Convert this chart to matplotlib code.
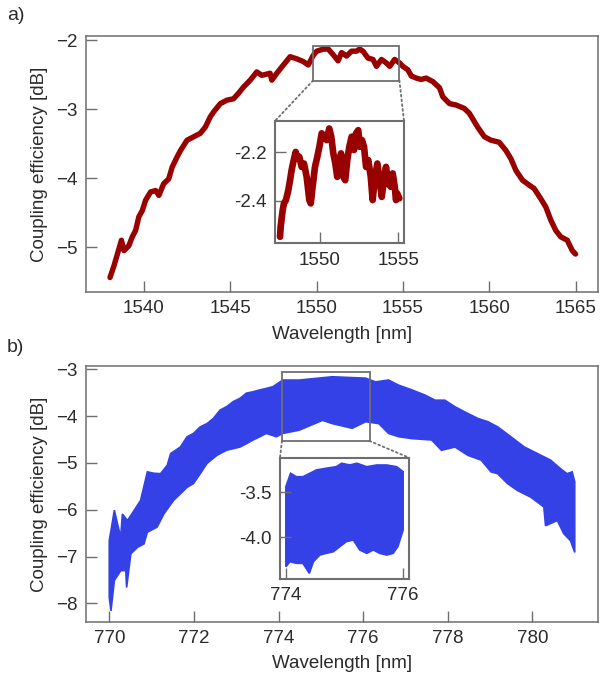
import numpy as np
import matplotlib
matplotlib.use("Agg")
import matplotlib.pyplot as plt
from matplotlib.patches import Rectangle, ConnectionPatch

plt.rcParams['font.family'] = ['Liberation Sans', 'DejaVu Sans']

# ---------------- Panel a data (C-band) ----------------
a_wl = [1538.04, 1538.27, 1538.47, 1538.70, 1538.85, 1539.13, 1539.33, 1539.52, 1539.71, 1539.91,
        1540.10, 1540.39, 1540.68, 1540.87, 1541.15, 1541.44, 1541.64, 1541.93, 1542.12, 1542.50,
        1542.89, 1543.27, 1543.56, 1543.85, 1544.04, 1544.43, 1544.81, 1545.19, 1545.48, 1545.77,
        1546.16, 1546.54, 1546.83, 1547.31, 1547.41, 1547.70, 1548.08, 1548.47, 1548.85, 1549.23,
        1549.52, 1549.81, 1550.01, 1550.39, 1550.68, 1550.96, 1551.25, 1551.45, 1551.74, 1552.03,
        1552.31, 1552.50, 1552.69, 1552.98, 1553.27, 1553.47, 1553.76, 1554.04, 1554.24, 1554.52,
        1554.81, 1555.00, 1555.29, 1555.49, 1555.78, 1556.06, 1556.35, 1556.73, 1557.12, 1557.31,
        1557.70, 1558.08, 1558.56, 1558.85, 1559.33, 1559.72, 1560.10, 1560.58, 1560.97, 1561.26,
        1561.55, 1561.93, 1562.31, 1562.60, 1562.99, 1563.28, 1563.57, 1563.86, 1564.14, 1564.52,
        1564.81, 1565.00]
a_ce = [-5.44, -5.27, -5.10, -4.90, -5.05, -4.98, -4.85, -4.76, -4.56, -4.47,
        -4.32, -4.20, -4.18, -4.25, -4.08, -4.01, -3.84, -3.69, -3.60, -3.45,
        -3.40, -3.35, -3.26, -3.11, -3.04, -2.92, -2.87, -2.85, -2.77, -2.68,
        -2.58, -2.46, -2.51, -2.48, -2.58, -2.48, -2.36, -2.24, -2.27, -2.31,
        -2.36, -2.22, -2.16, -2.13, -2.13, -2.21, -2.30, -2.18, -2.23, -2.16,
        -2.16, -2.13, -2.16, -2.26, -2.28, -2.38, -2.28, -2.33, -2.38, -2.28,
        -2.33, -2.38, -2.43, -2.52, -2.55, -2.57, -2.55, -2.60, -2.69, -2.82,
        -2.92, -2.94, -2.99, -3.06, -3.26, -3.40, -3.45, -3.48, -3.60, -3.72,
        -3.89, -4.03, -4.10, -4.15, -4.30, -4.42, -4.61, -4.76, -4.85, -4.90,
        -5.05, -5.10]

# inset a
ai_wl = [1547.45, 1547.49, 1547.62, 1547.70, 1547.83, 1547.98, 1548.09, 1548.19, 1548.30, 1548.45,
         1548.55, 1548.68, 1548.83, 1548.98, 1549.15, 1549.32, 1549.41, 1549.53, 1549.68, 1549.83,
         1549.96, 1550.11, 1550.26, 1550.43, 1550.59, 1550.72, 1550.85, 1550.98, 1551.10, 1551.23,
         1551.34, 1551.49, 1551.61, 1551.74, 1551.87, 1552.02, 1552.17, 1552.30, 1552.44, 1552.55,
         1552.68, 1552.81, 1552.94, 1553.08, 1553.24, 1553.36, 1553.51, 1553.66, 1553.78, 1553.94,
         1554.08, 1554.21, 1554.36, 1554.51, 1554.64, 1554.77, 1554.85, 1554.93, 1555.06]
ai_ce = [-2.549, -2.508, -2.439, -2.411, -2.397, -2.356, -2.315, -2.273, -2.239, -2.198,
         -2.225, -2.218, -2.260, -2.246, -2.301, -2.397, -2.411, -2.342, -2.260, -2.218,
         -2.177, -2.121, -2.135, -2.149, -2.101, -2.135, -2.204, -2.246, -2.301, -2.260,
         -2.204, -2.301, -2.315, -2.232, -2.177, -2.135, -2.190, -2.121, -2.108, -2.177,
         -2.149, -2.177, -2.260, -2.232, -2.301, -2.397, -2.301, -2.246, -2.301, -2.384,
         -2.315, -2.260, -2.328, -2.342, -2.287, -2.342, -2.397, -2.370, -2.390]

# ---------------- Panel b data (780 nm band): upper / lower envelopes ----------------
bu_wl = [770.00, 770.12, 770.27, 770.31, 770.43, 770.59, 770.74, 770.90, 771.05, 771.21,
         771.37, 771.45, 771.68, 771.84, 771.99, 772.15, 772.31, 772.46, 772.62, 772.77,
         772.93, 773.09, 773.24, 773.40, 773.56, 773.71, 773.87, 774.10, 774.49, 775.27,
         776.06, 776.29, 776.60, 776.84, 777.15, 777.46, 777.70, 777.93, 778.17, 778.40,
         778.71, 778.95, 779.18, 779.49, 779.81, 780.12, 780.43, 780.66, 780.82, 780.94,
         781.00]
bu_ce = [-6.66, -6.01, -6.59, -6.09, -6.23, -6.01, -5.80, -5.19, -5.22, -5.23,
         -5.05, -4.80, -4.66, -4.44, -4.37, -4.23, -4.16, -4.05, -3.87, -3.80,
         -3.69, -3.62, -3.51, -3.48, -3.44, -3.41, -3.37, -3.23, -3.23, -3.16,
         -3.19, -3.27, -3.23, -3.34, -3.44, -3.55, -3.66, -3.66, -3.80, -3.91,
         -4.05, -4.12, -4.23, -4.44, -4.66, -4.80, -4.94, -5.12, -5.23, -5.19,
         -5.40]
bl_wl = [770.00, 770.04, 770.12, 770.27, 770.39, 770.41, 770.51, 770.67, 770.82, 770.90,
         771.13, 771.29, 771.52, 771.68, 771.84, 771.99, 772.15, 772.31, 772.54, 772.77,
         773.09, 773.24, 773.40, 773.56, 773.71, 773.95, 774.10, 774.49, 775.04, 775.27,
         775.74, 776.06, 776.37, 776.60, 776.84, 777.15, 777.62, 777.85, 778.17, 778.48,
         778.79, 779.02, 779.18, 779.41, 779.65, 779.96, 780.27, 780.31, 780.59, 780.74,
         780.90, 781.00]
bl_ce = [-7.87, -8.16, -7.51, -7.30, -7.30, -7.66, -6.94, -6.80, -6.73, -6.48,
         -6.37, -6.09, -5.80, -5.66, -5.52, -5.44, -5.23, -5.01, -4.84, -4.73,
         -4.66, -4.59, -4.51, -4.44, -4.37, -4.44, -4.37, -4.30, -4.09, -4.16,
         -4.26, -4.12, -4.16, -4.37, -4.44, -4.48, -4.51, -4.73, -4.66, -4.84,
         -4.94, -5.19, -5.23, -5.44, -5.59, -5.73, -5.94, -6.34, -6.23, -6.51,
         -6.66, -6.91]

# inset b envelopes
biu_wl = [774.00, 774.08, 774.18, 774.29, 774.41, 774.52, 774.69, 774.86, 774.95, 775.09,
          775.21, 775.38, 775.55, 775.72, 775.89, 776.00]
biu_ce = [-3.438, -3.289, -3.327, -3.327, -3.289, -3.252, -3.233, -3.216, -3.178, -3.197,
          -3.178, -3.216, -3.197, -3.197, -3.216, -3.271]
bil_wl = [774.00, 774.07, 774.18, 774.29, 774.40, 774.47, 774.58, 774.69, 774.81, 774.92,
          775.03, 775.15, 775.26, 775.38, 775.49, 775.60, 775.72, 775.83, 775.91, 776.00]
bil_ce = [-4.327, -4.271, -4.289, -4.289, -4.400, -4.271, -4.197, -4.178, -4.160, -4.104,
          -4.049, -4.030, -4.141, -4.178, -4.141, -4.178, -4.197, -4.178, -4.104, -3.919]

RED = '#990000'
BLUE = '#3341e6'
GRAY = '#6e6e6e'
TXT = '#2b2b2b'
FS = 13.5


def style(ax, fs=FS):
    for s in ax.spines.values():
        s.set_color(GRAY)
        s.set_linewidth(1.1)
    ax.tick_params(direction='in', length=8, width=1.0, color=GRAY,
                   labelsize=fs, labelcolor=TXT, top=False, right=False, pad=6)


def band(ax, xu, yu, xl, yl, color, lw=1.2):
    xs = np.concatenate([np.asarray(xu), np.asarray(xl)[::-1]])
    ys = np.concatenate([np.asarray(yu), np.asarray(yl)[::-1]])
    ax.fill(xs, ys, color=color, lw=lw, ec=color)


fig = plt.figure(figsize=(6.0, 6.85), dpi=100)

# ---------------- Panel a ----------------
axa = fig.add_axes([86/600, 1-292/685, 512/600, 256/685])
axa.plot(a_wl, a_ce, color=RED, lw=3.9, solid_joinstyle='round', solid_capstyle='round')
axa.set_xlim(1536.65, 1566.3)
axa.set_ylim(-5.65, -1.94)
axa.set_xticks([1540, 1545, 1550, 1555, 1560, 1565])
axa.set_yticks([-5, -4, -3, -2])
axa.set_xlabel('Wavelength [nm]', fontsize=FS, color=TXT, labelpad=6)
axa.set_ylabel('Coupling efficiency [dB]', fontsize=FS, color=TXT, labelpad=6)
style(axa)
axa.add_patch(Rectangle((1549.8, -2.585), 5.0, 0.505, fill=False, ec=GRAY, lw=1.3, zorder=5))

ia = fig.add_axes([275/600, 1-243.3/685, 129/600, 122.3/685])
ia.plot(ai_wl, ai_ce, color=RED, lw=4.8, solid_joinstyle='round', solid_capstyle='round')
ia.set_xlim(1547.13, 1555.36)
ia.set_ylim(-2.576, -2.07)
ia.set_xticks([1550, 1555])
ia.set_yticks([-2.4, -2.2])
ia.yaxis.set_major_formatter(matplotlib.ticker.FormatStrFormatter('%.1f'))
style(ia)
for s in ia.spines.values():
    s.set_linewidth(1.5)
for xa, xb in [(1549.8, 0), (1554.8, 1)]:
    con = ConnectionPatch(xyA=(xa, -2.585), coordsA='data', axesA=axa,
                          xyB=(xb, 1), coordsB='axes fraction', axesB=ia,
                          color=GRAY, ls=':', lw=1.3)
    fig.add_artist(con)

fig.text(7/600, 1-15/685, 'a)', fontsize=FS+0.5, color=TXT, va='center', ha='left')

# ---------------- Panel b ----------------
axb = fig.add_axes([86/600, 1-621.7/685, 512/600, 255.7/685])
band(axb, bu_wl, bu_ce, bl_wl, bl_ce, BLUE)
axb.set_xlim(769.45, 781.55)
axb.set_ylim(-8.39, -2.93)
axb.set_xticks([770, 772, 774, 776, 778, 780])
axb.set_yticks([-8, -7, -6, -5, -4, -3])
axb.set_xlabel('Wavelength [nm]', fontsize=FS, color=TXT, labelpad=6)
axb.set_ylabel('Coupling efficiency [dB]', fontsize=FS, color=TXT, labelpad=6)
style(axb)
axb.add_patch(Rectangle((774.08, -4.53), 2.07, 1.48, fill=False, ec=GRAY, lw=1.3, zorder=5))

ib = fig.add_axes([280/600, 1-579/685, 129/600, 121.3/685])
band(ib, biu_wl, biu_ce, bil_wl, bil_ce, BLUE)
ib.set_xlim(773.9, 776.1)
ib.set_ylim(-4.463, -3.116)
ib.set_xticks([774, 776])
ib.set_yticks([-4.0, -3.5])
ib.yaxis.set_major_formatter(matplotlib.ticker.FormatStrFormatter('%.1f'))
style(ib)
for s in ib.spines.values():
    s.set_linewidth(1.5)
for xa, xb in [(774.08, 0), (776.15, 1)]:
    con = ConnectionPatch(xyA=(xa, -4.53), coordsA='data', axesA=axb,
                          xyB=(xb, 1), coordsB='axes fraction', axesB=ib,
                          color=GRAY, ls=':', lw=1.3)
    fig.add_artist(con)

fig.text(7/600, 1-347/685, 'b)', fontsize=FS+0.5, color=TXT, va='center', ha='left')

fig.savefig('out.png', dpi=100)
